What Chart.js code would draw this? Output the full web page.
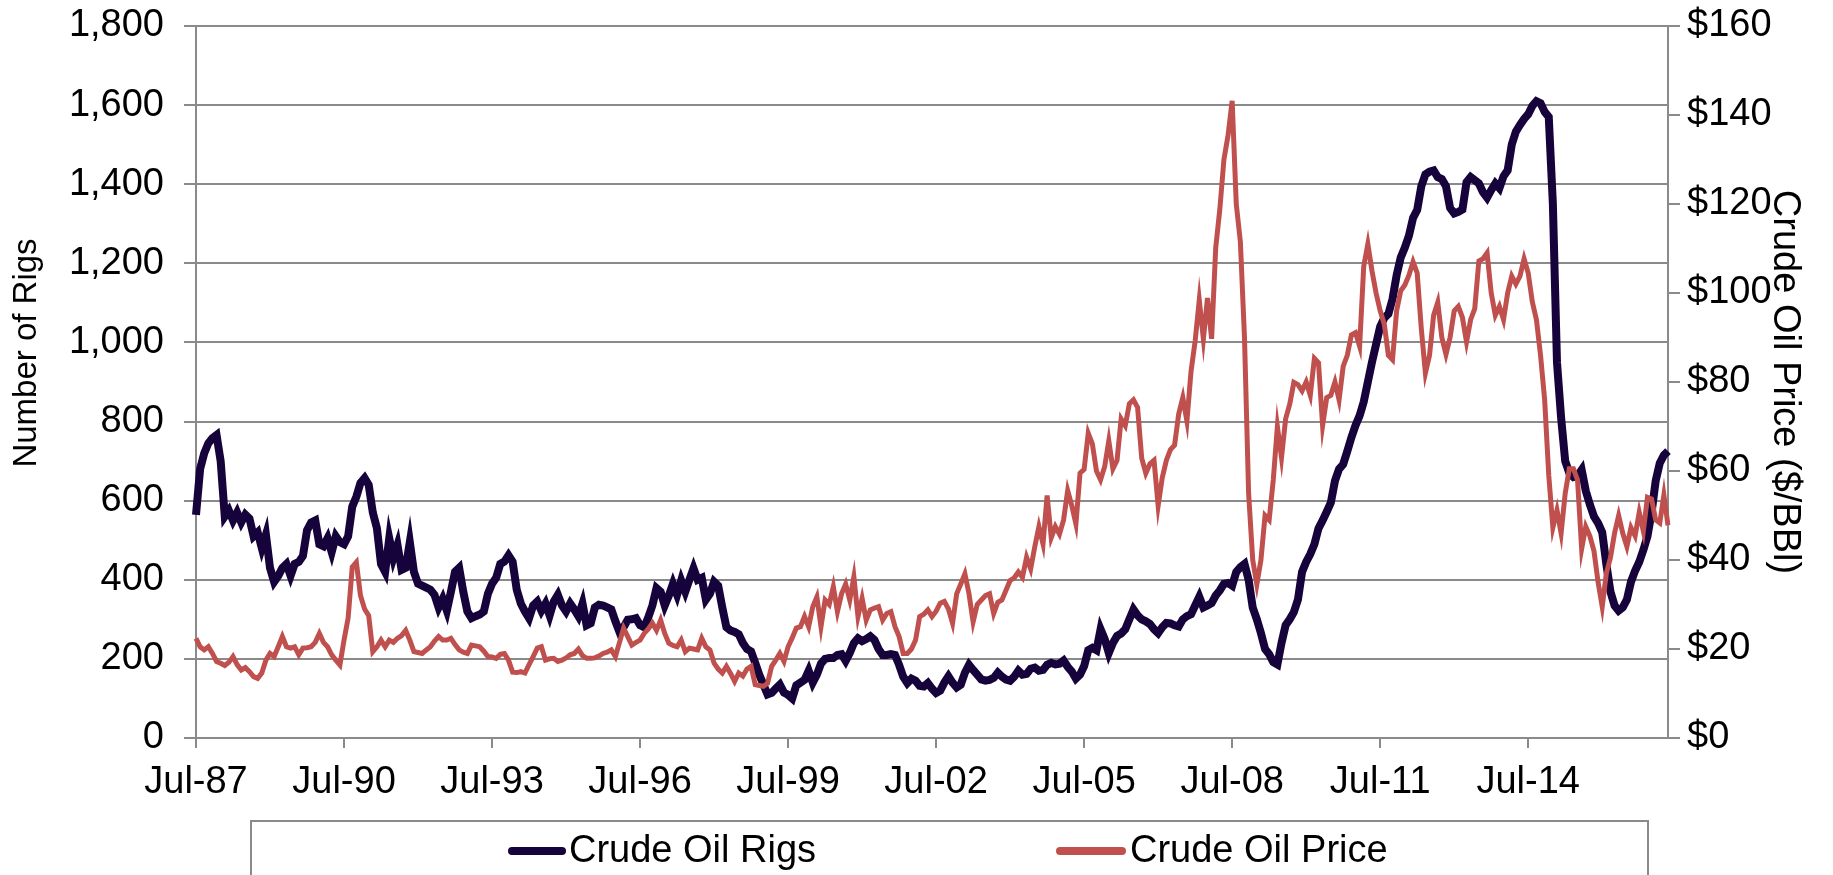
<!DOCTYPE html>
<html>
<head>
<meta charset="utf-8">
<script src="https://cdn.jsdelivr.net/npm/chart.js@4/dist/chart.umd.min.js"></script>
<style>
  html, body { margin: 0; padding: 0; background: #fff; }
  canvas { display: block; }
</style>
</head>
<body>
<canvas id="rigChart" width="1833" height="875"></canvas>
<script>
// monthly points, Jul-87 .. May-17
const monthNames = ['Jan', 'Feb', 'Mar', 'Apr', 'May', 'Jun', 'Jul', 'Aug', 'Sep', 'Oct', 'Nov', 'Dec'];
const categories = [];
for (let i = 0; i < 359; i++) {
    const m = (6 + i) % 12;
    const yr = 1987 + Math.floor((6 + i) / 12);
    categories.push(monthNames[m] + '-' + String(yr % 100).padStart(2, '0'));
}

const tickLabels = ['Jul-87', 'Jul-90', 'Jul-93', 'Jul-96', 'Jul-99', 'Jul-02', 'Jul-05', 'Jul-08', 'Jul-11', 'Jul-14'];

const rigCounts = [
    564, 680, 720, 745, 758, 766, 700, 560, 575, 550, 570, 545,
    565, 555, 510, 520, 480, 514, 430, 395, 410, 430, 440, 410,
    440, 445, 460, 525, 545, 550, 490, 485, 505, 470, 510, 495,
    490, 510, 585, 610, 645, 657, 640, 570, 530, 440, 420, 505,
    455, 488, 425, 430, 495, 420, 390, 385, 380, 375, 362, 330,
    352, 322, 370, 420, 430, 370, 320, 303, 308, 312, 320, 365,
    390, 405, 440, 446, 462, 446, 375, 340, 320, 303, 335, 345,
    322, 340, 310, 345, 362, 335, 320, 340, 325, 308, 340, 285,
    290, 330, 337, 335, 330, 325, 295, 268, 280, 299, 300, 303,
    285, 280, 305, 335, 379, 370, 335, 360, 390, 362, 398, 370,
    400, 429, 400, 405, 350, 365, 395, 385, 330, 280, 272, 268,
    262, 240, 225, 219, 190, 160, 135, 110, 114, 125, 135, 115,
    109, 100, 133, 140, 147, 170, 140, 160, 188, 200, 202, 202,
    210, 212, 195, 215, 240, 252, 245, 250, 257, 248, 225, 210,
    210, 212, 210, 185, 155, 139, 150, 145, 132, 130, 139, 125,
    114, 120, 140, 156, 140, 128, 135, 165, 185, 172, 160, 148,
    145, 147, 152, 165, 155, 148, 145, 155, 170, 160, 162, 175,
    178, 170, 172, 185, 190, 186, 188, 196, 180, 168, 150, 160,
    182, 222, 228, 222, 275, 250, 215, 240, 258, 264, 275, 300,
    325, 310, 300, 295, 288, 275, 265, 280, 291, 290, 285, 282,
    300, 308, 313, 335, 357, 330, 335, 341, 360, 373, 390, 392,
    385, 420, 432, 440, 400, 330, 300, 265, 225, 212, 192, 186,
    240, 285, 300, 318, 350, 420, 445, 465, 490, 530, 550, 572,
    595, 650, 680, 692, 725, 760, 790, 815, 850, 900, 950, 995,
    1040, 1062, 1072, 1110, 1170, 1215, 1240, 1270, 1315, 1335, 1395, 1425,
    1432, 1435, 1418, 1413, 1395, 1340, 1326, 1330, 1336, 1405, 1418, 1410,
    1402, 1380, 1366, 1385, 1402, 1390, 1420, 1435, 1500, 1533, 1550, 1565,
    1577, 1598, 1610, 1605, 1583, 1570, 1350, 950, 810, 700, 670, 660,
    663, 678, 625, 590, 560, 543, 520, 440, 370, 335, 322, 330,
    350, 395, 423, 445, 475, 510, 570, 650, 695, 715, 725
];

const oilPrice = [
    22.4, 20.5, 19.8, 20.5, 19.0, 17.2, 16.8, 16.3, 17.0, 18.3, 16.5, 15.3,
    15.8, 14.9, 13.8, 13.4, 14.6, 17.5, 19.0, 18.3, 20.5, 22.8, 20.5, 20.2,
    20.5, 18.7, 20.2, 20.3, 20.5, 21.5, 23.5, 21.5, 20.5, 18.7, 17.5, 16.4,
    22.0, 27.0, 38.4, 39.5, 32.0, 29.0, 27.5, 19.4, 20.5, 22.0, 20.5, 22.0,
    21.5, 22.4, 23.0, 24.2, 22.0, 19.4, 19.2, 19.0, 19.8, 20.5, 21.8, 22.8,
    22.0, 22.0, 22.4, 21.0, 19.8, 19.3, 19.0, 20.9, 20.7, 20.5, 19.5, 18.3,
    18.2, 17.9, 18.8, 19.0, 17.5, 14.8, 14.7, 14.9, 14.6, 16.5, 18.3, 20.2,
    20.5, 17.5, 17.8, 17.9, 17.2, 17.5, 18.0, 18.7, 19.0, 20.0, 18.5, 17.9,
    17.9, 18.0, 18.4, 19.0, 19.3, 19.8, 18.3, 21.5, 24.7, 22.8, 20.9, 21.5,
    22.0, 23.5, 24.5, 25.8, 24.2, 26.5, 23.5, 21.3, 20.8, 20.5, 22.0, 19.4,
    20.2, 20.0, 19.8, 22.4, 20.5, 19.8, 16.8, 15.5, 14.6, 16.1, 14.5, 12.7,
    14.6, 13.9, 15.5, 16.1, 12.0, 11.8, 11.6, 12.3, 16.1, 17.5, 19.0, 17.2,
    20.5, 22.5, 24.7, 25.0, 27.3, 25.0, 29.5, 31.7, 25.0, 31.0, 30.0, 34.0,
    28.4, 32.4, 34.6, 31.0, 36.2, 27.3, 31.4, 26.5, 28.8, 29.2, 29.5, 26.5,
    28.0, 28.4, 25.0, 22.8, 19.0, 19.0, 20.0, 22.0, 27.3, 27.8, 28.8, 27.3,
    28.5, 30.3, 30.7, 29.0, 25.8, 32.4, 34.6, 36.9, 32.4, 26.1, 30.0, 31.0,
    32.0, 32.4, 28.0, 30.5, 31.0, 33.2, 35.4, 36.0, 37.3, 36.1, 40.6, 38.0,
    43.0, 47.5, 43.6, 54.5, 45.0, 47.5, 45.8, 49.0, 55.6, 52.2, 48.1, 59.5,
    60.4, 68.5, 66.1, 60.0, 58.0, 61.0, 66.8, 60.5, 62.4, 71.7, 70.2, 75.1,
    76.0, 74.3, 62.9, 59.5, 61.6, 62.4, 52.2, 58.5, 62.4, 64.8, 65.8, 72.8,
    76.5, 71.2, 82.4, 89.2, 98.4, 89.7, 98.9, 89.7, 110.1, 118.8, 130.0, 135.4,
    143.2, 120.0, 111.5, 90.0, 55.0, 40.0, 34.5, 40.0, 50.0, 49.0, 58.0, 70.0,
    63.0, 71.7, 75.0, 79.9, 79.4, 78.0, 80.0, 77.0, 85.3, 84.3, 70.2, 76.5,
    77.0, 80.0, 76.0, 83.5, 86.0, 90.6, 91.1, 88.0, 106.0, 111.0, 105.0, 100.0,
    96.0, 93.0, 86.0, 85.0, 96.0, 100.5, 101.8, 104.0, 107.0, 104.5, 92.0, 82.0,
    86.0, 95.0, 97.9, 90.0, 86.2, 90.0, 96.0, 97.0, 94.5, 89.0, 94.0, 96.5,
    107.2, 107.7, 109.0, 100.0, 95.0, 97.0, 94.0, 100.0, 103.8, 102.0, 103.8, 107.7,
    104.5, 98.0, 94.0, 86.0, 76.0, 59.0, 47.3, 51.2, 46.0, 55.0, 60.5, 60.5,
    58.0, 42.5, 47.5, 45.4, 42.0, 35.0, 29.5, 37.0, 40.5, 46.0, 50.0, 46.0,
    43.0, 47.3, 45.4, 50.7, 46.5, 54.1, 53.7, 49.0, 48.3, 54.6, 47.8
];

Chart.defaults.font.family = '"Liberation Sans", Arial, sans-serif';
Chart.defaults.color = '#000';

const gridGray = '#8a8a8a';

// boxed legend under the axis + left axis title (sits a bit above centre in the original)
const extras = {
    id: 'extras',
    afterDraw(chart, args, opts) {
        const ctx = chart.ctx;
        ctx.save();
        ctx.strokeStyle = gridGray;
        ctx.lineWidth = 2;
        ctx.strokeRect(251, 821, 1397, 80);
        ctx.font = '38px "Liberation Sans", Arial, sans-serif';
        ctx.textBaseline = 'middle';
        ctx.fillStyle = '#000';
        chart.data.datasets.forEach((ds, i) => {
            const it = opts.items[i];
            ctx.strokeStyle = ds.borderColor;
            ctx.lineWidth = 8;
            ctx.lineCap = 'round';
            ctx.beginPath();
            ctx.moveTo(it[0], opts.y);
            ctx.lineTo(it[1], opts.y);
            ctx.stroke();
            ctx.fillText(ds.label, it[2], opts.y + 1);
        });

        ctx.translate(27, 353);
        ctx.rotate(-Math.PI / 2);
        ctx.font = '33px "Liberation Sans", Arial, sans-serif';
        ctx.textAlign = 'center';
        ctx.fillText(opts.leftTitle, 0, 0);
        ctx.restore();
    }
};

new Chart(document.getElementById('rigChart'), {
    type: 'line',
    data: {
        labels: categories,
        datasets: [
            {
                label: 'Crude Oil Rigs',
                data: rigCounts,
                yAxisID: 'y',
                borderColor: '#17033b',
                borderWidth: 8,
                pointRadius: 0,
                tension: 0,
                order: 2
            },
            {
                label: 'Crude Oil Price',
                data: oilPrice,
                yAxisID: 'y1',
                borderColor: '#c0504d',
                borderWidth: 5,
                pointRadius: 0,
                tension: 0,
                order: 1
            }
        ]
    },
    options: {
        responsive: false,
        animation: false,
        layout: { padding: { top: 26, left: 0, right: 0, bottom: 0 } },
        plugins: {
            legend: { display: false },
            tooltip: { enabled: false },
            extras: {
                items: [[512, 562, 569], [1060, 1122, 1130]],
                y: 851,
                leftTitle: 'Number of Rigs'
            }
        },
        scales: {
            x: {
                type: 'category',
                offset: false,
                grid: { drawOnChartArea: false, drawTicks: true, tickLength: 10, color: gridGray, lineWidth: 2 },
                border: { display: true, color: gridGray, width: 2 },
                ticks: { autoSkip: false, maxRotation: 0, padding: 12, font: { size: 38 } },
                afterBuildTicks: (scale) => {
                    scale.ticks = scale.ticks.filter(t => tickLabels.includes(categories[t.value]));
                },
                afterFit: (scale) => {
                    scale.height = 137;
                    scale.paddingLeft = 0;
                    scale.paddingRight = 0;
                }
            },
            y: {
                position: 'left',
                min: 0,
                max: 1800,
                ticks: {
                    stepSize: 200,
                    padding: 20,
                    font: { size: 38 },
                    callback: (v) => v.toLocaleString('en-US')
                },
                grid: { color: gridGray, lineWidth: 2, tickLength: 12 },
                border: { color: gridGray, width: 2 },
                afterFit: (scale) => {
                    scale.width = 196;
                    scale.paddingTop = 0;
                    scale.paddingBottom = 0;
                }
            },
            y1: {
                position: 'right',
                min: 0,
                max: 160,
                ticks: {
                    stepSize: 20,
                    padding: 7,
                    font: { size: 38 },
                    callback: (v) => '$' + v
                },
                grid: { drawOnChartArea: false, color: gridGray, lineWidth: 2, tickLength: 12 },
                border: { color: gridGray, width: 2 },
                title: { display: true, text: 'Crude Oil Price ($/BBl)', font: { size: 38 }, padding: { top: 26, bottom: 0 } },
                afterFit: (scale) => {
                    scale.width = 165;
                    scale.paddingTop = 0;
                    scale.paddingBottom = 0;
                }
            }
        }
    },
    plugins: [extras]
});
</script>
</body>
</html>
